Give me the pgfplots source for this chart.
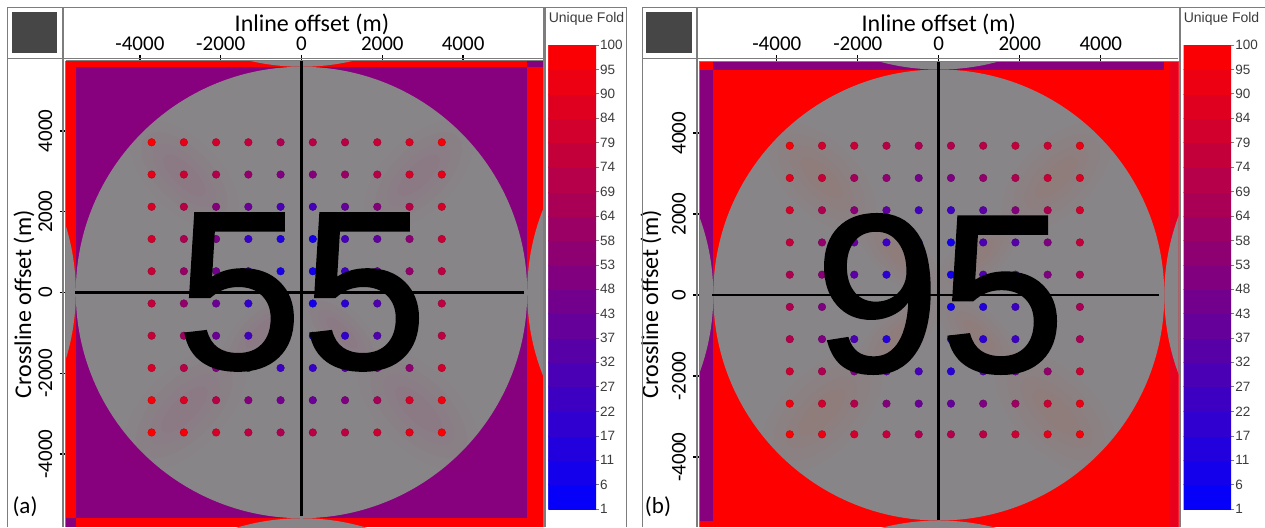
\documentclass[border=0pt]{standalone}
\usepackage{pgfplots}
\pgfplotsset{compat=1.18}
\usepackage{fontspec}
\setmainfont{Carlito}
\newfontfamily\arial{Liberation Sans}
\newfontfamily\arialb[FakeBold=1.2]{Liberation Sans}
\definecolor{pur}{RGB}{135,0,125}
\definecolor{gry}{RGB}{136,133,136}
\definecolor{frm}{RGB}{125,125,125}
\definecolor{dk}{RGB}{70,70,70}
\definecolor{lab}{RGB}{60,60,60}
\definecolor{tintA}{RGB}{175,60,120}
\definecolor{tintB}{RGB}{205,70,50}
\pgfplotsset{
 colormap={fold}{rgb255(0)=(0,0,255) rgb255(1)=(255,0,0)},
 colormap name=fold,
 panel/.style={
  anchor=south west, scale only axis, axis on top,
  axis x line*=top, axis y line*=left, axis line style={-,draw=frm,line width=1pt},
  tick align=outside, major tick length=6pt,
  tick style={black,line width=1.3pt},
  xtick={-4000,-2000,0,2000,4000}, xticklabels={-4000,-2000,0,2000,4000},
  ytick={-4000,-2000,0,2000,4000}, yticklabels={-4000,-2000,0,2000,4000},
  ticklabel style={font=\fontsize{21}{21}\selectfont,text=black},
  yticklabel style={rotate=90,anchor=south,inner sep=1pt,yshift=6pt},
  xticklabel style={anchor=south,inner sep=1pt,yshift=3pt},
  label style={font=\fontsize{24}{24}\selectfont},
  point meta min=1, point meta max=100,
 },
 bar/.style={
  anchor=south west, scale only axis, width=47.6pt, height=464pt,
  xmin=0, xmax=1, ymin=1, ymax=100, axis line style={draw=none},
  axis y line*=right, axis x line=none,
  ytick={1,6.2,11.4,16.6,21.8,27.1,32.3,37.5,42.7,47.9,53.1,58.3,63.5,68.7,73.9,79.2,84.4,89.6,94.8,100},
  yticklabels={1,6,11,17,22,27,32,37,43,48,53,58,64,69,74,79,84,90,95,100},
  tick align=outside, major tick length=3pt, tick style={frm,line width=.6pt},
  yticklabel style={font=\arial\fontsize{13.5}{13.5}\selectfont,text=lab,inner sep=1pt},
  point meta min=1, point meta max=100,
 },
 dots/.style={scatter, only marks, mark=*, mark size=3.8pt, scatter src=explicit},
}
\newcommand\barband{\addplot[surf,shader=flat mean,mesh/cols=2,point meta=y] table[row sep=\\]{
x y\\0 1\\1 1\\0 6.2\\1 6.2\\0 11.4\\1 11.4\\0 16.6\\1 16.6\\0 21.8\\1 21.8\\0 27.1\\1 27.1\\0 32.3\\1 32.3\\0 37.5\\1 37.5\\0 42.7\\1 42.7\\0 47.9\\1 47.9\\0 53.1\\1 53.1\\0 58.3\\1 58.3\\0 63.5\\1 63.5\\0 68.7\\1 68.7\\0 73.9\\1 73.9\\0 79.2\\1 79.2\\0 84.4\\1 84.4\\0 89.6\\1 89.6\\0 94.8\\1 94.8\\0 100\\1 100\\
};}
\newcommand\tint[6]{%
 \fill[#6,opacity=.025] (axis cs:#1,#2) ellipse[x radius=#3,y radius=#4,rotate=#5];
 \fill[#6,opacity=.03] (axis cs:#1,#2) ellipse[x radius=.8*#3,y radius=.75*#4,rotate=#5];
 \fill[#6,opacity=.03] (axis cs:#1,#2) ellipse[x radius=.6*#3,y radius=.5*#4,rotate=#5];
 \fill[#6,opacity=.03] (axis cs:#1,#2) ellipse[x radius=.4*#3,y radius=.3*#4,rotate=#5];
}
\begin{document}
\begin{tikzpicture}[x=1pt,y=1pt]
\path[use as bounding box,fill=white] (0,0) rectangle (1265,527);
% ---------- panel (a)
\begin{axis}[panel, at={(65.5pt,0pt)}, width=477.5pt, height=466pt,
  xmin=-5842, xmax=5978, ymin=-5804, ymax=5730,
  xlabel={Inline offset (m)}, ylabel={Crossline offset (m)},
  xlabel style={at={(axis description cs:0.516,1.079)},anchor=center},
  ylabel style={at={(axis description cs:-0.087,0.478)},anchor=center,rotate=0}]
\addplot[fill=red,draw=none] coordinates {(-5842,-5804) (5978,-5804) (5978,5730) (-5842,5730)} --cycle;
\addplot[fill=pur,draw=none] coordinates {(-5587,-5587) (5587,-5587) (5587,5587) (-5587,5587)} --cycle;
\addplot[fill=pur,draw=none] coordinates {(5587,5587) (5978,5587) (5978,5730) (5587,5730)} --cycle;
\addplot[fill=pur,draw=none] coordinates {(-5842,-5804) (-5587,-5804) (-5587,-5587) (-5842,-5587)} --cycle;
\fill[gry] (axis cs:0,0) ellipse[x radius=5587,y radius=5587];
\fill[gry] (axis cs:-11174,0) ellipse[x radius=5587,y radius=5587];
\fill[gry] (axis cs:11174,0) ellipse[x radius=5587,y radius=5587];
\fill[gry] (axis cs:0,-11174) ellipse[x radius=5587,y radius=5587];
\fill[gry] (axis cs:0,11174) ellipse[x radius=5587,y radius=5587];
\tint{2900}{-2900}{1900}{1000}{-45}{tintA}
\tint{-2900}{-2900}{1900}{1000}{45}{tintA}
\tint{2900}{2900}{1700}{900}{45}{tintA}
\tint{-2900}{2900}{1700}{900}{-45}{tintA}
\tint{1000}{-1000}{1300}{600}{-45}{tintA}
\tint{-1000}{-1000}{1300}{600}{45}{tintA}
\addplot[dots] table[row sep=\\,x=x,y=y,meta=v]{
x y v\\
-3710 3718 98\\-2912 3718 90\\-2114 3718 82\\-1316 3718 76\\-518 3718 68\\280 3718 72\\1078 3718 72\\1876 3718 78\\2674 3718 86\\3472 3718 96\\
-3710 2920 90\\-2912 2920 80\\-2114 2920 70\\-1316 2920 58\\-518 2920 50\\280 2920 52\\1078 2920 60\\1876 2920 72\\2674 2920 84\\3472 2920 90\\
-3710 2122 85\\-2912 2122 72\\-2114 2122 52\\-1316 2122 42\\-518 2122 30\\280 2122 28\\1078 2122 40\\1876 2122 52\\2674 2122 72\\3472 2122 84\\
-3710 1324 82\\-2912 1324 68\\-2114 1324 48\\-1316 1324 22\\-518 1324 12\\280 1324 8\\1078 1324 28\\1876 1324 38\\2674 1324 55\\3472 1324 78\\
-3710 526 78\\-2912 526 60\\-2114 526 45\\-1316 526 30\\-518 526 10\\280 526 8\\1078 526 25\\1876 526 40\\2674 526 58\\3472 526 74\\
-3710 -272 76\\-2912 -272 58\\-2114 -272 42\\-1316 -272 20\\-518 -272 12\\280 -272 8\\1078 -272 18\\1876 -272 32\\2674 -272 52\\3472 -272 74\\
-3710 -1070 78\\-2912 -1070 62\\-2114 -1070 42\\-1316 -1070 26\\-518 -1070 15\\280 -1070 12\\1078 -1070 20\\1876 -1070 32\\2674 -1070 52\\3472 -1070 74\\
-3710 -1868 84\\-2912 -1868 72\\-2114 -1868 50\\-1316 -1868 38\\-518 -1868 24\\280 -1868 22\\1078 -1868 35\\1876 -1868 45\\2674 -1868 56\\3472 -1868 82\\
-3710 -2666 96\\-2912 -2666 86\\-2114 -2666 72\\-1316 -2666 52\\-518 -2666 45\\280 -2666 42\\1078 -2666 50\\1876 -2666 65\\2674 -2666 84\\3472 -2666 94\\
-3710 -3464 100\\-2912 -3464 96\\-2114 -3464 84\\-1316 -3464 74\\-518 -3464 68\\280 -3464 72\\1078 -3464 74\\1876 -3464 80\\2674 -3464 90\\3472 -3464 98\\
};
\addplot[black,line width=2.8pt] coordinates {(0,5730) (0,-5520)};
\addplot[black,line width=2.8pt] coordinates {(-5600,0) (5500,0)};
\end{axis}
% ---------- panel (b)
\begin{axis}[panel, at={(699pt,0pt)}, width=479.6pt, height=466pt,
  xmin=-5921, xmax=5921, ymin=-5728, ymax=5778,
  xlabel={Inline offset (m)}, ylabel={Crossline offset (m)},
  xlabel style={at={(axis description cs:0.5,1.079)},anchor=center},
  ylabel style={at={(axis description cs:-0.1,0.478)},anchor=center,rotate=0}]
\addplot[fill=red,draw=none] coordinates {(-5921,-5728) (5921,-5728) (5921,5778) (-5921,5778)} --cycle;
\addplot[fill={rgb,255:red,232;green,0;blue,28},draw=none] coordinates {(5700,-5728) (5921,-5728) (5921,5778) (5700,5778)} --cycle;
\addplot[fill=pur,draw=none] coordinates {(-5568,5568) (5568,5568) (5568,5778) (-5568,5778)} --cycle;
\addplot[fill=pur,draw=none] coordinates {(-5921,-5580) (-5568,-5580) (-5568,5568) (-5921,5568)} --cycle;
\fill[gry] (axis cs:0,0) ellipse[x radius=5568,y radius=5568];
\fill[gry] (axis cs:-11136,0) ellipse[x radius=5568,y radius=5568];
\fill[gry] (axis cs:11136,0) ellipse[x radius=5568,y radius=5568];
\fill[gry] (axis cs:0,-11136) ellipse[x radius=5568,y radius=5568];
\fill[gry] (axis cs:0,11136) ellipse[x radius=5568,y radius=5568];
\tint{2900}{-2900}{1900}{1000}{-45}{tintB}
\tint{-2900}{-2900}{1900}{1000}{45}{tintB}
\tint{2900}{2900}{1700}{900}{45}{tintB}
\tint{-2900}{2900}{1700}{900}{-45}{tintB}
\tint{1000}{-1000}{1300}{600}{-45}{tintB}
\tint{-1000}{-1000}{1300}{600}{45}{tintB}
\tint{1000}{1000}{1300}{600}{45}{tintB}
\tint{-1000}{1000}{1300}{600}{-45}{tintB}
\addplot[dots] table[row sep=\\,x=x,y=y,meta=v]{
x y v\\
-3680 3686 96\\-2884 3686 82\\-2088 3686 78\\-1292 3686 72\\-496 3686 68\\300 3686 70\\1096 3686 72\\1892 3686 76\\2688 3686 80\\3484 3686 92\\
-3680 2890 88\\-2884 2890 78\\-2088 2890 64\\-1292 2890 56\\-496 2890 46\\300 2890 50\\1096 2890 58\\1892 2890 68\\2688 2890 78\\3484 2890 86\\
-3680 2094 84\\-2884 2094 68\\-2088 2094 54\\-1292 2094 38\\-496 2094 26\\300 2094 25\\1096 2094 36\\1892 2094 52\\2688 2094 68\\3484 2094 82\\
-3680 1298 76\\-2884 1298 58\\-2088 1298 40\\-1292 1298 24\\-496 1298 16\\300 1298 8\\1096 1298 30\\1892 1298 34\\2688 1298 50\\3484 1298 76\\
-3680 502 68\\-2884 502 54\\-2088 502 36\\-1292 502 18\\-496 502 12\\300 502 8\\1096 502 32\\1892 502 38\\2688 502 50\\3484 502 68\\
-3680 -294 68\\-2884 -294 50\\-2088 -294 35\\-1292 -294 20\\-496 -294 12\\300 -294 8\\1096 -294 14\\1892 -294 24\\2688 -294 48\\3484 -294 66\\
-3680 -1090 70\\-2884 -1090 50\\-2088 -1090 30\\-1292 -1090 15\\-496 -1090 12\\300 -1090 14\\1096 -1090 18\\1892 -1090 24\\2688 -1090 48\\3484 -1090 66\\
-3680 -1886 80\\-2884 -1886 68\\-2088 -1886 50\\-1292 -1886 36\\-496 -1886 28\\300 -1886 16\\1096 -1886 30\\1892 -1886 42\\2688 -1886 58\\3484 -1886 80\\
-3680 -2682 94\\-2884 -2682 82\\-2088 -2682 70\\-1292 -2682 52\\-496 -2682 42\\300 -2682 40\\1096 -2682 50\\1892 -2682 62\\2688 -2682 80\\3484 -2682 92\\
-3680 -3440 98\\-2884 -3440 92\\-2088 -3440 82\\-1292 -3440 76\\-496 -3440 68\\300 -3440 70\\1096 -3440 72\\1892 -3440 80\\2688 -3440 90\\3484 -3440 96\\
};
\addplot[black,line width=2.8pt] coordinates {(0,5778) (0,-5550)};
\addplot[black,line width=2.8pt] coordinates {(-5600,0) (5440,0)};
\end{axis}
% ---------- colour bars
\begin{axis}[bar, at={(548.4pt,18pt)}]
\barband
\end{axis}
\begin{axis}[bar, at={(1183.5pt,18pt)}]
\barband
\end{axis}
% ---------- frames and header blocks
\begin{scope}[draw=frm,line width=1pt]
\draw (7,519) -- (626,519) -- (626,0);
\draw (7,0) -- (7,519);
\draw (7,468) -- (543,468);
\draw[line width=2pt] (62.5,519) -- (62.5,0);
\draw[line width=2.2pt] (544.5,519) -- (544.5,0);
\draw (642,0) -- (642,519) -- (1265,519);
\draw (642,468) -- (1178,468);
\draw[line width=2pt] (696.5,519) -- (696.5,0);
\draw[line width=2.2pt] (1180,519) -- (1180,0);
\end{scope}
\fill[dk] (12,474) rectangle (57,515);
\fill[dk] (646,474) rectangle (692,515);
% ---------- big numbers and labels
\node[font=\arialb\fontsize{225}{225}\selectfont,text=black,inner sep=0pt] at (302,235) {55};
\node[font=\arialb\fontsize{225}{225}\selectfont,text=black,inner sep=0pt] at (940,233) {95};
\node[font=\fontsize{23}{23}\selectfont,inner sep=0pt] at (25,20) {(a)};
\node[font=\fontsize{23}{23}\selectfont,inner sep=0pt] at (658,20) {(b)};
\node[font=\arial\fontsize{14}{14}\selectfont,text=lab,inner sep=0pt] at (586.5,508.5) {Unique Fold};
\node[font=\arial\fontsize{14}{14}\selectfont,text=lab,inner sep=0pt] at (1221.5,508.5) {Unique Fold};
\end{tikzpicture}
\end{document}
